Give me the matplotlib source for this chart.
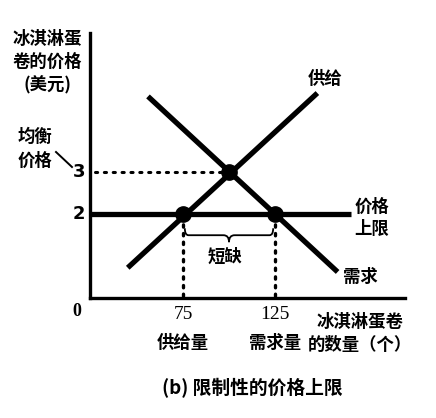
import numpy as np
import matplotlib.pyplot as plt
from matplotlib.path import Path
from matplotlib.patches import PathPatch

plt.rcParams['font.family'] = ['Noto Sans CJK SC', 'DejaVu Sans']
plt.rcParams['font.weight'] = 'bold'

# data (schematic: quantity axis does not start at 0)
supply_qty = [45, 148]
supply_price = [0.72, 4.88]
demand_qty = [56, 159]
demand_price = [4.8, 0.62]
ceiling_price = 2
ceiling_qty = [24.5, 166]
eq_qty, eq_price = 100, 3
qty_supplied, qty_demanded = 75, 125
x_ticks = [75, 125]
x_tick_labels = ['75', '125']
x_sub_labels = ['供给量', '需求量']
y_ticks = [2, 3]

W, H = 436, 418
fig = plt.figure(figsize=(W / 100, H / 100), dpi=100)
fig.patch.set_facecolor('white')

def px(x, y):
    # pixel position of the reference -> figure fraction
    return x / W, 1 - y / H

ax = fig.add_axes([90 / W, 1 - 298 / H, 315 / W, 265 / H])
ax.set_xlim(24.5, 195.6)
ax.set_ylim(0, 6.31)
for s in ['top', 'right']:
    ax.spines[s].set_visible(False)
for s in ['left', 'bottom']:
    ax.spines[s].set_linewidth(2.4)
ax.set_xticks([])
ax.set_yticks([])
ax.patch.set_alpha(0)

lw = 3.8
ax.plot(supply_qty, supply_price, color='black', lw=lw, solid_capstyle='butt')
ax.plot(demand_qty, demand_price, color='black', lw=lw, solid_capstyle='butt')
ax.plot(ceiling_qty, [ceiling_price] * 2, color='black', lw=lw, solid_capstyle='butt', clip_on=False)

# dotted guides
ax.plot([27, eq_qty - 3], [eq_price, eq_price], color='black', lw=2.2, ls=(0, (0.7, 2.2)),
        dash_capstyle='round')
for q in [qty_supplied, qty_demanded]:
    ax.plot([q, q], [0.05, ceiling_price - 0.2], color='black', lw=2.4, ls=(0, (0.7, 1.9)),
            dash_capstyle='round')

# points
ax.plot([eq_qty, qty_supplied, qty_demanded], [eq_price, ceiling_price, ceiling_price],
        'o', color='black', ms=11, zorder=5)

# brace for shortage
x0, x1 = qty_supplied + 1, qty_demanded - 1
xm = (x0 + x1) / 2
yt, yb = 1.66, 1.33
ym = (yt + yb) / 2
verts = [(x0, yt), (x0, ym), (x0 + 2, ym), (xm - 3, ym), (xm, ym), (xm, yb),
         (xm, ym), (xm + 3, ym), (x1 - 2, ym), (x1, ym), (x1, yt)]
codes = [Path.MOVETO, Path.CURVE3, Path.CURVE3, Path.LINETO, Path.CURVE3, Path.CURVE3,
         Path.CURVE3, Path.CURVE3, Path.LINETO, Path.CURVE3, Path.CURVE3]
ax.add_patch(PathPatch(Path(verts, codes), fill=False, lw=1.3, color='black'))

# texts
fs = 12.5
fig.text(*px(47, 39), '冰淇淋蛋', ha='center', va='center', fontsize=fs, fontweight='bold')
fig.text(*px(47, 62), '卷的价格', ha='center', va='center', fontsize=fs, fontweight='bold')
fig.text(*px(47, 85), '(美元)', ha='center', va='center', fontsize=fs, fontweight='bold')
fig.text(*px(35, 137), '均衡', ha='center', va='center', fontsize=fs, fontweight='bold')
fig.text(*px(35, 161), '价格', ha='center', va='center', fontsize=fs, fontweight='bold')
fig.add_artist(plt.Line2D([56 / W, 72 / W], [1 - 152 / H, 1 - 167 / H], color='black', lw=1.4))
for p in y_ticks:
    ax.text(22, p, str(p), ha='right', va='center', fontsize=13, fontweight='bold',
            family=['DejaVu Sans'], clip_on=False)
fig.text(*px(77, 312), '0', ha='center', va='center', fontsize=13, fontweight='bold',
         family=['Liberation Serif'])
for q, lab, sub in zip(x_ticks, x_tick_labels, x_sub_labels):
    ax.text(q, -0.4, lab, ha='center', va='center', fontsize=14, family=['Liberation Serif'],
            fontweight='normal')
    ax.text(q, -1.07, sub, ha='center', va='center', fontsize=fs, fontweight='bold')
fig.text(*px(360, 322), '冰淇淋蛋卷', ha='center', va='center', fontsize=fs, fontweight='bold')
fig.text(*px(360, 345), '的数量（个）', ha='center', va='center', fontsize=fs, fontweight='bold')
fig.text(*px(325, 79), '供给', ha='center', va='center', fontsize=fs, fontweight='bold')
fig.text(*px(360, 277), '需求', ha='center', va='center', fontsize=fs, fontweight='bold')
fig.text(*px(372, 207), '价格', ha='center', va='center', fontsize=fs, fontweight='bold')
fig.text(*px(372, 229), '上限', ha='center', va='center', fontsize=fs, fontweight='bold')
ax.text(xm - 2, 0.97, '短缺', ha='center', va='center', fontsize=fs, fontweight='bold')
fig.text(*px(252, 388), '(b) 限制性的价格上限', ha='center', va='center', fontsize=13.5,
         fontweight='bold')

fig.savefig('out.png', dpi=100)
